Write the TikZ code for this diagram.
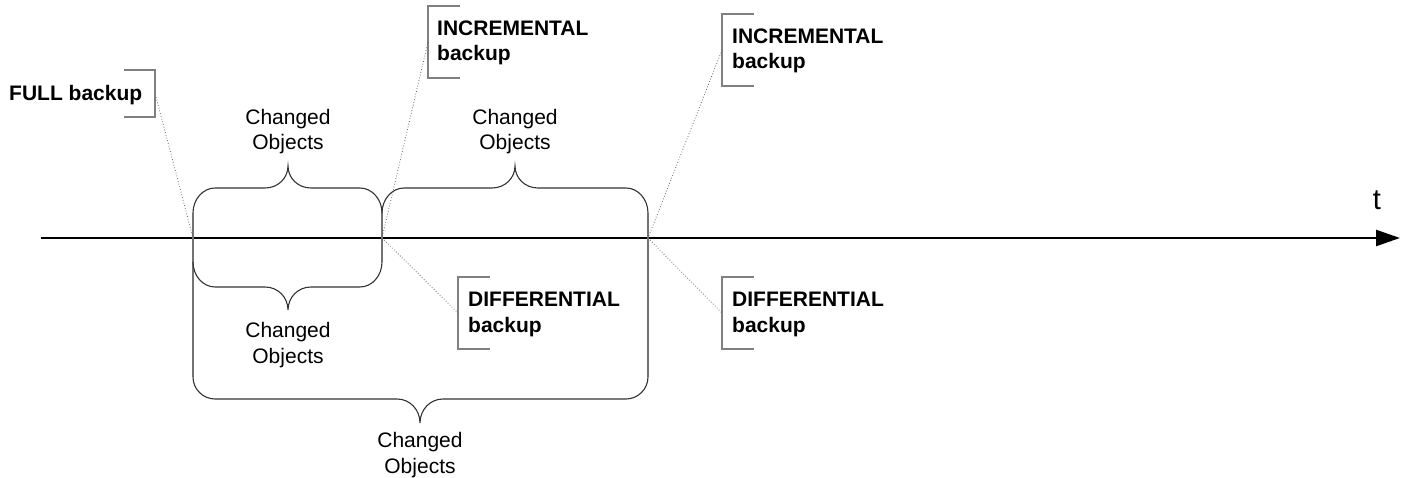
\documentclass[tikz,border=0pt]{standalone}
\usepackage{fontspec}
\setmainfont{Liberation Sans}
\usetikzlibrary{arrows.meta}
\newcommand\mybrace[6]{%
  \pgfmathsetmacro\bda{#5-#4}%
  \pgfmathsetmacro\bdb{#6-#5}%
  \draw[bracestyle] (#1,#4) .. controls (#1,{#4+0.55*(\bda)}) and ({#1+10},#5) .. ({#1+22},#5)
    -- ({#3-23},#5) .. controls ({#3-10},#5) and (#3,{#5+0.45*(\bdb)}) .. (#3,#6)
    .. controls (#3,{#5+0.45*(\bdb)}) and ({#3+10},#5) .. ({#3+23},#5)
    -- ({#2-22},#5) .. controls ({#2-10},#5) and (#2,{#4+0.55*(\bda)}) .. (#2,#4);
}
\begin{document}
\begin{tikzpicture}[x=1pt,y=-1pt,
  bracestyle/.style={draw=black!80,line width=1.1pt},
  vert/.style={draw=black!55,line width=1.4pt},
  bracket/.style={draw=black!50,line width=1.4pt},
  callout/.style={draw=black!60,dotted,line width=0.8pt},
  lbl/.style={font=\fontsize{21}{25.5}\selectfont\bfseries,align=left,inner sep=0pt,anchor=base west},
  chg/.style={font=\fontsize{21}{25.5}\selectfont,align=center,inner sep=0pt,anchor=base}]
\useasboundingbox (0,0) rectangle (1406,478);

% axis
\coordinate (a0) at (41,238);
\coordinate (a1) at (1400,238);
\draw[line width=2.4pt,-{Triangle[length=24pt,width=16pt]}] (a0) -- (a1);
\node[font=\fontsize{29}{32}\selectfont,inner sep=0pt,anchor=base] (t) at (1377,210) {t};

% event points
\coordinate (pF) at (193,238);
\coordinate (pI1) at (382,238);
\coordinate (pI2) at (648,238);

% vertical sides
\draw[vert] (193,213) -- (193,377);
\draw[vert] (382,213) -- (382,262);
\draw[vert] (648,213) -- (648,377);

% braces
\mybrace{193}{382}{288}{213}{188}{166}
\mybrace{382}{648}{515}{213}{188}{166}
\mybrace{193}{382}{288}{262}{287}{310}
\mybrace{193}{648}{420}{377}{399}{423}

% changed objects labels (base = last line)
\node[chg] (c1) at (288,150) {Changed\\Objects};
\node[chg] (c2) at (515,150) {Changed\\Objects};
\node[chg] (c3) at (288,363) {Changed\\Objects};
\node[chg] (c4) at (420,473) {Changed\\Objects};

% FULL backup
\node[lbl] (full) at (9,100.5) {FULL backup};
\draw[bracket] (124,70) -- (155,70) -- (155,117) -- (124,117);
\coordinate (bF) at (156,97);
\draw[callout] (bF) -- (pF);

% INCREMENTAL 1
\node[lbl] (inc1) at (437,61) {INCREMENTAL\\backup};
\draw[bracket] (460,6) -- (428,6) -- (428,78) -- (460,78);
\coordinate (bI1) at (428,42);
\draw[callout] (bI1) -- (pI1);

% DIFFERENTIAL 1
\node[lbl] (dif1) at (468,332.5) {DIFFERENTIAL\\backup};
\draw[bracket] (490,277) -- (458,277) -- (458,349) -- (490,349);
\coordinate (bD1) at (458,313);
\draw[callout] (pI1) -- (bD1);

% INCREMENTAL 2
\node[lbl] (inc2) at (732,69) {INCREMENTAL\\backup};
\draw[bracket] (754,14) -- (722,14) -- (722,86) -- (754,86);
\coordinate (bI2) at (722,50);
\draw[callout] (bI2) -- (pI2);

% DIFFERENTIAL 2
\node[lbl] (dif2) at (732,332.5) {DIFFERENTIAL\\backup};
\draw[bracket] (754,277) -- (722,277) -- (722,349) -- (754,349);
\coordinate (bD2) at (722,313);
\draw[callout] (pI2) -- (bD2);
\end{tikzpicture}
\end{document}
